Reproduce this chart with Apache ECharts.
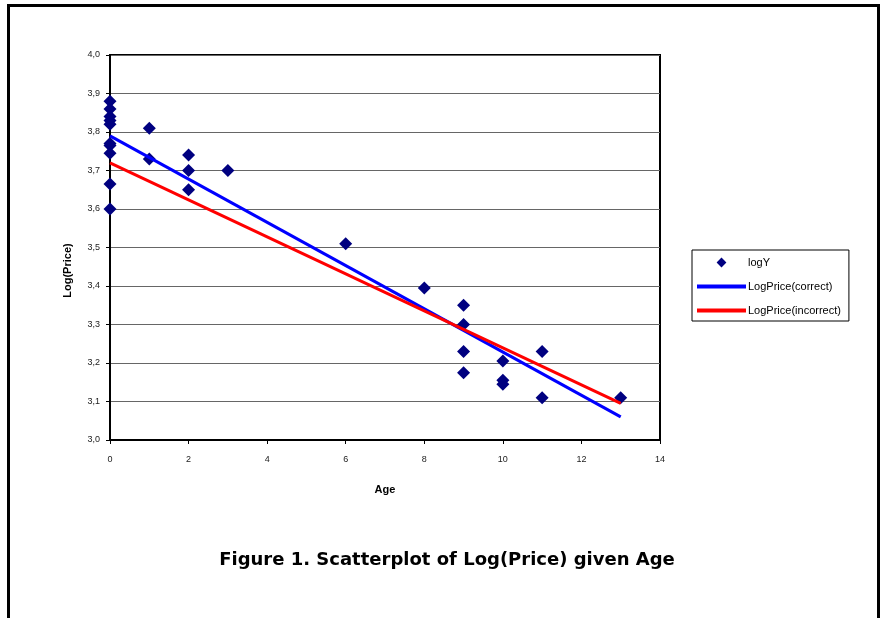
<!DOCTYPE html>
<html style="height: 100%">
<head>
<meta charset="utf-8">
</head>
<body style="height: 100%; margin: 0; background: #fff">
	<div id="container" style="width: 880px; height: 618px"></div>
	<script type="text/javascript" src="https://cdn.jsdelivr.net/npm/echarts@6/dist/echarts.min.js"></script>
	<script type="text/javascript">
		// scatter points (Age, logY)
		var ages = [0, 0, 0, 0, 0, 0, 0, 0, 0, 0, 1, 1, 2, 2, 2, 3, 6, 8, 9, 9, 9, 9, 10, 10, 10, 11, 11, 13];
		var logY = [3.88, 3.86, 3.84, 3.83, 3.82, 3.77, 3.765, 3.745, 3.665, 3.60, 3.81, 3.73, 3.74, 3.70, 3.65, 3.70, 3.51, 3.395, 3.35, 3.30, 3.23, 3.175, 3.205, 3.155, 3.145, 3.23, 3.11, 3.11];
		// fitted lines, end points
		var lineAges = [0, 13];
		var correctLine = [3.79, 3.06];
		var incorrectLine = [3.72, 3.095];

		var pts = ages.map(function (a, i) { return [a, logY[i]]; });
		var correct = lineAges.map(function (a, i) { return [a, correctLine[i]]; });
		var incorrect = lineAges.map(function (a, i) { return [a, incorrectLine[i]]; });

		var font = 'Arial, "Liberation Sans", sans-serif';
		// diamond in the middle of a 50x10 box, so the legend does not stretch it
		var diamondIcon = 'path://M0,0 M50,10 M25,0 L30,5 L25,10 L20,5 Z';
		var noDot = { color: 'rgba(0,0,0,0)', borderWidth: 0, opacity: 0 };

		var dom = document.getElementById("container");
		var myChart = echarts.init(dom);
		var option = {
			animation: false,
			backgroundColor: '#fff',
			title: {
				text: 'Figure 1. Scatterplot of Log(Price) given Age',
				left: 442,
				top: 546,
				textAlign: 'center',
				textStyle: { fontFamily: '"DejaVu Sans", Arial, sans-serif', fontSize: 18, fontWeight: 'bold', color: '#000' }
			},
			graphic: [{
				type: 'rect',
				shape: { x: 8.5, y: 5.5, width: 870, height: 700 },
				style: { fill: 'none', stroke: '#000', lineWidth: 3 },
				silent: true
			}],
			legend: {
				orient: 'vertical',
				left: 692,
				top: 250,
				width: 153,
				padding: [7, 8, 5, 3],
				itemWidth: 49,
				itemHeight: 10,
				itemGap: 13,
				borderColor: '#000',
				borderWidth: 1,
				textStyle: { fontFamily: font, fontSize: 11, color: '#000', padding: [0, 1, 0, -3] },
				data: [
					{ name: 'logY', icon: diamondIcon },
					{ name: 'LogPrice(correct)', itemStyle: noDot, lineStyle: { width: 4 } },
					{ name: 'LogPrice(incorrect)', itemStyle: noDot, lineStyle: { width: 4 } }
				]
			},
			grid: {
				left: 110,
				right: 220,
				top: 55,
				bottom: 178,
				show: true,
				borderColor: '#000',
				borderWidth: 2,
				containLabel: false
			},
			xAxis: {
				type: 'value',
				min: 0,
				max: 14,
				interval: 2,
				name: 'Age',
				nameLocation: 'middle',
				nameGap: 44,
				nameTextStyle: { fontFamily: font, fontSize: 11, fontWeight: 'bold', color: '#000' },
				axisLine: { lineStyle: { color: '#000', width: 2 } },
				axisTick: { show: true, length: 4, lineStyle: { color: '#000' } },
				axisLabel: { fontFamily: font, fontSize: 9, color: '#222', margin: 15 },
				splitLine: { show: false }
			},
			yAxis: {
				type: 'value',
				min: 3,
				max: 4,
				interval: 0.1,
				name: 'Log(Price)',
				nameLocation: 'middle',
				nameGap: 37,
				nameTextStyle: { fontFamily: font, fontSize: 11, fontWeight: 'bold', color: '#000', padding: [0, 46, 0, 0] },
				axisLine: { lineStyle: { color: '#000', width: 2 } },
				axisTick: { show: true, length: 4, lineStyle: { color: '#000' } },
				axisLabel: {
					fontFamily: font, fontSize: 9, color: '#222', margin: 10,
					formatter: function (v) { return v.toFixed(1).replace('.', ','); }
				},
				splitLine: { show: true, lineStyle: { color: '#666', width: 1 } }
			},
			series: [
				{
					name: 'LogPrice(correct)',
					type: 'line',
					data: correct,
					showSymbol: false,
					symbol: 'none',
					color: '#0000ff',
					lineStyle: { color: '#0000ff', width: 3 },
					z: 2
				},
				{
					name: 'LogPrice(incorrect)',
					type: 'line',
					data: incorrect,
					showSymbol: false,
					symbol: 'none',
					color: '#ff0000',
					lineStyle: { color: '#ff0000', width: 3 },
					z: 3
				},
				{
					name: 'logY',
					type: 'scatter',
					data: pts,
					symbol: 'diamond',
					symbolSize: 13,
					itemStyle: { color: '#000080', opacity: 1 },
					z: 1
				}
			]
		};
		myChart.setOption(option, true);
	</script>
</body>
</html>
